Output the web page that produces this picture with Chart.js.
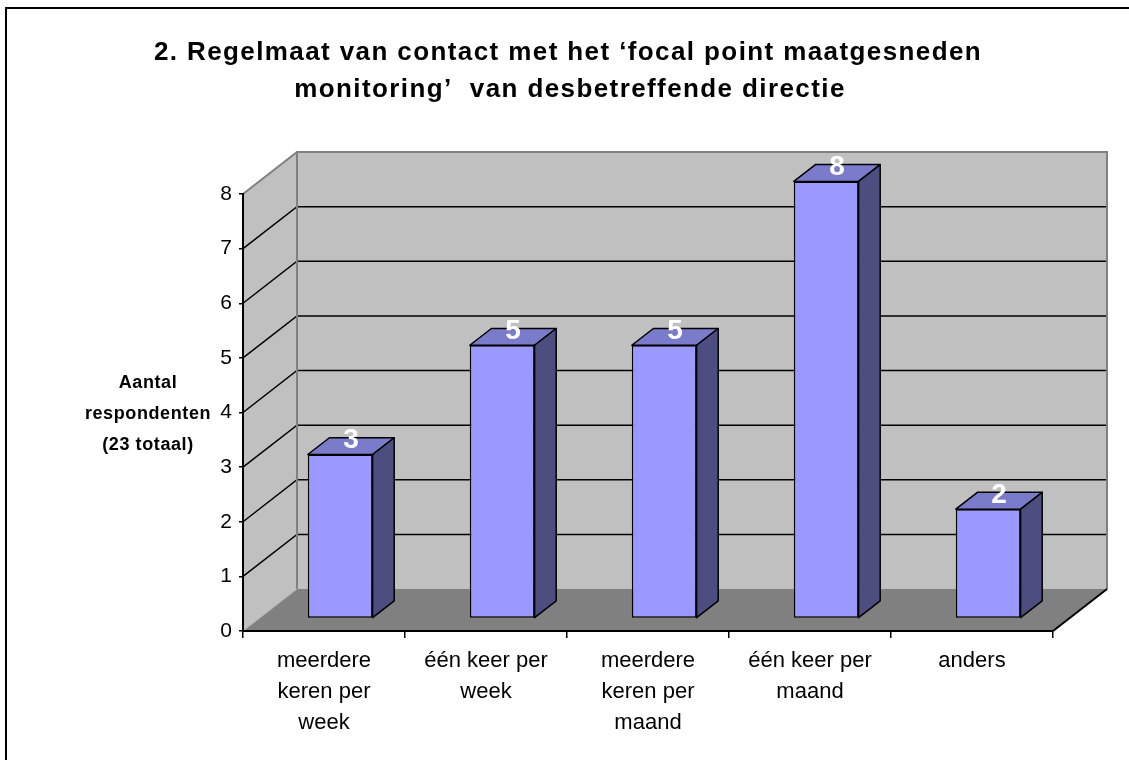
<!DOCTYPE html>
<html><head><meta charset="utf-8">
<script src="https://cdn.jsdelivr.net/npm/chart.js@4/dist/chart.umd.min.js"></script>
<style>html,body{margin:0;padding:0;background:#fff}#wrap{width:1129px;height:760px;position:relative}</style>
</head><body><div id="wrap"><canvas id="c" width="1129" height="760"></canvas></div>
<script>
const titleLines = ['2. Regelmaat van contact met het \u2018focal point maatgesneden', 'monitoring\u2019  van desbetreffende directie'];
const yAxisTitle = ['Aantal', 'respondenten', '(23 totaal)'];
const categories = [['meerdere','keren per','week'],['\u00e9\u00e9n keer per','week'],['meerdere','keren per','maand'],['\u00e9\u00e9n keer per','maand'],['anders']];
const values = [3, 5, 5, 8, 2];
const yMin = 0, yMax = 8, yStep = 1;

const FONT = '"Liberation Sans", Arial, sans-serif';
const DEPTH = {x: 54, y: -42};
const F0 = 0.3, F1 = 0.7;

function poly(ctx, pts){ctx.beginPath();ctx.moveTo(pts[0][0],pts[0][1]);for(let i=1;i<pts.length;i++)ctx.lineTo(pts[i][0],pts[i][1]);ctx.closePath();}

const walls = {
  id: 'walls',
  beforeDraw(chart){
    const {ctx, chartArea:a, scales:{y}} = chart;
    const dx = DEPTH.x, dy = DEPTH.y;
    const top = y.getPixelForValue(yMax), bot = y.getPixelForValue(yMin);
    ctx.save();
    ctx.strokeStyle = '#000'; ctx.lineWidth = 2;
    ctx.beginPath(); ctx.moveTo(6, 760); ctx.lineTo(6, 8); ctx.lineTo(1129, 8); ctx.stroke();
    ctx.fillStyle = '#c0c0c0';
    ctx.fillRect(a.left+dx, top+dy, a.right-a.left, bot-top);
    poly(ctx, [[a.left,top],[a.left+dx,top+dy],[a.left+dx,bot+dy],[a.left,bot]]); ctx.fill();
    ctx.fillStyle = '#808080';
    poly(ctx, [[a.left,bot],[a.left+dx,bot+dy],[a.right+dx,bot+dy],[a.right,bot]]); ctx.fill();
    ctx.strokeStyle = '#000'; ctx.lineWidth = 1.5;
    for (let v = yMin + yStep; v < yMax; v += yStep){
      const p = y.getPixelForValue(v);
      ctx.beginPath(); ctx.moveTo(a.left, p); ctx.lineTo(a.left+dx, p+dy); ctx.lineTo(a.right+dx, p+dy); ctx.stroke();
    }
    ctx.strokeStyle = '#808080'; ctx.lineWidth = 2;
    ctx.beginPath(); ctx.moveTo(a.left, top); ctx.lineTo(a.left+dx, top+dy); ctx.lineTo(a.right+dx, top+dy); ctx.lineTo(a.right+dx, bot+dy); ctx.stroke();
    ctx.beginPath(); ctx.moveTo(a.left+dx, top+dy); ctx.lineTo(a.left+dx, bot+dy); ctx.stroke();
    ctx.strokeStyle = '#b0b0b0'; ctx.lineWidth = 1;
    ctx.beginPath(); ctx.moveTo(a.left, bot); ctx.lineTo(a.left+dx, bot+dy); ctx.stroke();
    ctx.strokeStyle = '#000'; ctx.lineWidth = 2;
    ctx.beginPath(); ctx.moveTo(a.right, bot); ctx.lineTo(a.right+dx, bot+dy); ctx.stroke();
    ctx.restore();
  },
  beforeDatasetsDraw(chart){
    chart.ctx.save();
    chart.ctx.translate(DEPTH.x*F0, DEPTH.y*F0);
  },
  afterDatasetsDraw(chart){
    const ctx = chart.ctx;
    const bx = DEPTH.x*(F1-F0), by = DEPTH.y*(F1-F0);
    const meta = chart.getDatasetMeta(0);
    const data = chart.data.datasets[0].data;
    meta.data.forEach((el) => {
      const {x, y, width, base} = el.getProps(['x','y','width','base'], true);
      const l = x - width/2, r = x + width/2;
      ctx.lineWidth = 1.5; ctx.strokeStyle = '#000'; ctx.lineJoin = 'round';
      ctx.fillStyle = '#7b7bcc';
      poly(ctx, [[l,y],[l+bx,y+by],[r+bx,y+by],[r,y]]); ctx.fill(); ctx.stroke();
      ctx.fillStyle = '#4d4d80';
      poly(ctx, [[r,y],[r+bx,y+by],[r+bx,base+by],[r,base]]); ctx.fill(); ctx.stroke();
    });
    ctx.fillStyle = '#fff'; ctx.font = 'bold 28px ' + FONT; ctx.textAlign = 'center'; ctx.textBaseline = 'alphabetic';
    meta.data.forEach((el, i) => {
      const {x, y} = el.getProps(['x','y'], true);
      ctx.fillText(String(data[i]), x + bx/2, y + by/2 + 2);
    });
    ctx.restore();
  },
  afterDraw(chart){
    const ctx = chart.ctx;
    ctx.save();
    ctx.fillStyle = '#000'; ctx.textAlign = 'center'; ctx.textBaseline = 'alphabetic';
    ctx.font = 'bold 26px ' + FONT;
    ctx.letterSpacing = '1.4px';
    ctx.fillText(titleLines[0], 568, 60);
    ctx.fillText(titleLines[1], 570, 97);
    ctx.font = 'bold 18px ' + FONT;
    ctx.letterSpacing = '0.6px';
    const ys = [388, 419, 450];
    yAxisTitle.forEach((t, i) => ctx.fillText(t, 148, ys[i]));
    ctx.restore();
  }
};

new Chart(document.getElementById('c'), {
  type: 'bar',
  data: {
    labels: categories,
    datasets: [{
      data: values,
      backgroundColor: '#9999ff',
      borderColor: '#000',
      borderWidth: 1.5,
      borderSkipped: false,
      barPercentage: 0.4,
      categoryPercentage: 1.0,
      clip: false
    }]
  },
  options: {
    responsive: false,
    animation: false,
    events: [],
    layout: {padding: {left: 183, right: 76, top: 194, bottom: 29}},
    plugins: {legend: {display: false}, title: {display: false}, tooltip: {enabled: false}},
    scales: {
      x: {
        afterFit(s){ s.height = 100; },
        grid: {offset: true, drawOnChartArea: false, drawTicks: true, tickLength: 7, color: '#000', lineWidth: 1.5},
        border: {display: true, color: '#000', width: 2},
        ticks: {color: '#000', font: {family: FONT, size: 22, lineHeight: 1.41}, padding: 7, maxRotation: 0, autoSkip: false}
      },
      y: {
        min: yMin, max: yMax,
        afterFit(s){ s.width = 60; },
        grid: {drawOnChartArea: false, drawTicks: true, tickLength: 4, color: '#000', lineWidth: 1.5},
        border: {display: true, color: '#000', width: 2},
        ticks: {stepSize: yStep, color: '#000', font: {family: FONT, size: 21}, padding: 7}
      }
    }
  },
  plugins: [walls]
});
</script></body></html>
